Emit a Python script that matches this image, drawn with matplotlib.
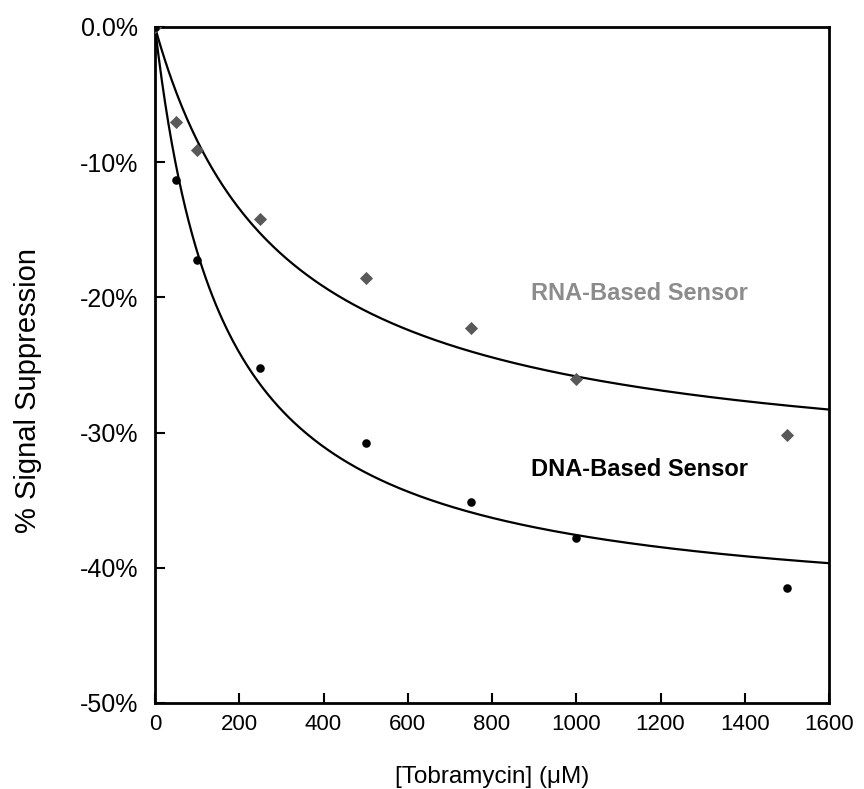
import numpy as np
import matplotlib.pyplot as plt

plt.rcParams['font.family'] = ['Liberation Sans', 'DejaVu Sans']

# measured points (% signal suppression vs tobramycin, uM)
conc = [0, 50, 100, 250, 500, 750, 1000, 1500]
rna_vals = [0, -7.0, -9.1, -14.2, -18.6, -22.3, -26.0, -30.2]
dna_vals = [0, -11.3, -17.2, -25.2, -30.8, -35.1, -37.8, -41.5]

# Langmuir fit parameters (max suppression %, Kd uM)
rna_fit = (33.6, 300.0)
dna_fit = (43.7, 163.0)

xticks = [0, 200, 400, 600, 800, 1000, 1200, 1400, 1600]
yticks = [0, -10, -20, -30, -40, -50]
ytick_labels = ['0.0%', '-10%', '-20%', '-30%', '-40%', '-50%']

fig = plt.figure(figsize=(8.64, 7.89), dpi=100)
ax = fig.add_axes([0.1794, 0.109, 0.7801, 0.8568])

xs = np.linspace(0, 1600, 400)
for amax, kd in (rna_fit, dna_fit):
    ax.plot(xs, -amax * xs / (kd + xs), color='black', lw=1.6, zorder=2)

ax.scatter(conc, rna_vals, marker='D', s=45, color='#595959', zorder=3, linewidths=0)
ax.scatter(conc, dna_vals, marker='o', s=38, color='black', zorder=3, linewidths=0)

ax.text(1151, -19.7, 'RNA-Based Sensor', color='#8c8c8c', fontsize=17,
        fontweight='bold', ha='center', va='center')
ax.text(1151, -32.7, 'DNA-Based Sensor', color='black', fontsize=17,
        fontweight='bold', ha='center', va='center')

ax.set_xlim(0, 1600)
ax.set_ylim(-50, 0)
ax.set_xticks(xticks)
ax.set_yticks(yticks)
ax.set_yticklabels(ytick_labels)
ax.tick_params(direction='in', length=7, width=1.5, pad=8)
ax.tick_params(axis='x', labelsize=16)
ax.tick_params(axis='y', labelsize=18, pad=12)
for sp in ax.spines.values():
    sp.set_linewidth(2)

ax.set_xlabel('[Tobramycin] (\u03bcM)', fontsize=17.5, labelpad=22)
ax.set_ylabel('% Signal Suppression', fontsize=21)
ax.yaxis.set_label_coords(-0.168, 0.463)

fig.savefig('out.png', dpi=100)
